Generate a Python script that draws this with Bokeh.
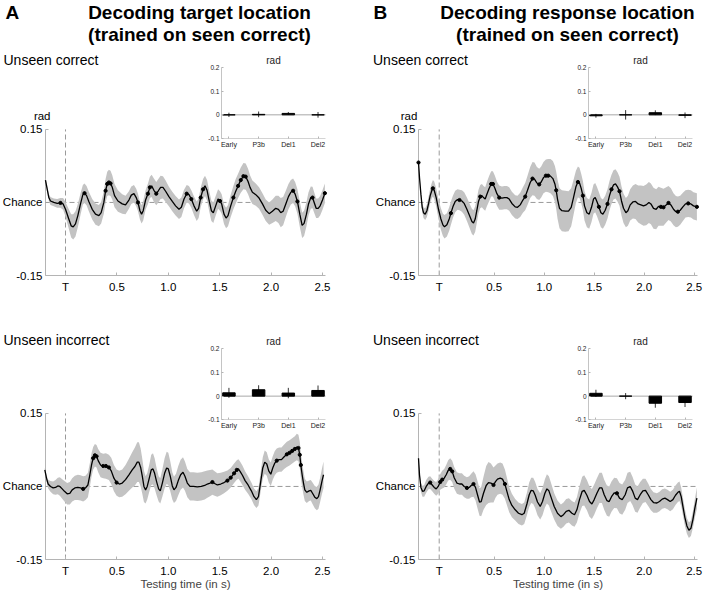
import numpy as np
from bokeh.plotting import figure
from bokeh.models import Range1d, FixedTicker, Label, LinearAxis
from bokeh.layouts import row, column
from bokeh.core.properties import value
from bokeh.embed import file_html
from bokeh.resources import INLINE

# ---------------- data ----------------
panel_titles = {"A": ["Decoding target location", "(trained on seen correct)"],
                "B": ["Decoding response location", "(trained on seen correct)"]}
cond_labels = ["Unseen correct", "Unseen incorrect"]
categories = ["Early", "P3b", "Del1", "Del2"]
y_ticks = [-0.15, 0.0, 0.15]
y_tick_labels = ["-0.15", "Chance", "0.15"]
x_ticks_a = [0.0, 0.5, 1.0, 1.5, 2.0, 2.5]
x_ticks_b = [-0.05, 0.5, 1.0, 1.5, 2.0, 2.5]
x_tick_labels = ["T", "0.5", "1.0", "1.5", "2.0", "2.5"]
inset_y_ticks = [-0.1, 0.0, 0.1, 0.2]
inset_y_tick_labels = ["-0.1", "0", "0.1", "0.2"]
chance_level = 0.0
x_axis_end = 2.53

# ---- A, unseen correct ----
t_a_top = [-0.195,-0.162,-0.146,-0.114,-0.081,-0.049,-0.023,0.000,0.032,0.055,
           0.075,0.097,0.120,0.146,0.169,0.185,0.205,0.227,0.260,0.292,
           0.325,0.347,0.373,0.390,0.406,0.422,0.438,0.455,0.477,0.510,
           0.552,0.584,0.617,0.640,0.666,0.688,0.705,0.724,0.740,0.756,
           0.779,0.802,0.821,0.838,0.860,0.883,0.903,0.925,0.948,0.974,
           1.006,1.039,1.071,1.104,1.127,1.153,1.179,1.201,1.224,1.250,
           1.276,1.295,1.315,1.338,1.357,1.377,1.399,1.419,1.438,1.461,
           1.484,1.503,1.519,1.542,1.562,1.581,1.607,1.633,1.656,1.679,
           1.705,1.731,1.753,1.776,1.795,1.818,1.851,1.883,1.916,1.948,
           1.981,2.013,2.045,2.071,2.094,2.117,2.143,2.169,2.192,2.214,
           2.234,2.256,2.279,2.302,2.321,2.344,2.364,2.386,2.403,2.419,
           2.438,2.458,2.477,2.500,2.523]
v_a_top = [0.046,0.010,0.003,0.000,-0.002,-0.001,-0.003,-0.014,-0.034,-0.048,
           -0.050,-0.044,-0.027,-0.003,0.016,0.019,0.014,0.002,-0.014,-0.024,
           -0.027,-0.021,0.000,0.024,0.038,0.041,0.039,0.031,0.014,0.003,
           -0.003,-0.005,0.005,0.015,0.018,0.010,0.000,-0.017,-0.024,-0.017,
           0.005,0.018,0.031,0.034,0.025,0.018,0.024,0.031,0.031,0.023,
           0.012,0.002,-0.007,-0.014,-0.010,0.007,0.018,0.016,0.007,-0.007,
           -0.018,-0.012,0.010,0.027,0.034,0.025,0.002,-0.017,-0.021,-0.007,
           0.007,0.003,-0.003,-0.024,-0.032,-0.027,-0.007,0.010,0.023,0.034,
           0.046,0.054,0.053,0.043,0.031,0.021,0.016,0.009,-0.003,-0.016,
           -0.023,-0.018,-0.012,-0.014,-0.021,-0.018,-0.003,0.012,0.021,0.024,
           0.017,0.002,-0.024,-0.047,-0.043,-0.024,-0.003,0.010,0.010,0.000,
           -0.012,-0.012,-0.007,0.005,0.019]
hw_a_top = [0.006,0.007,0.008,0.008,0.009,0.010,0.012,0.015,0.020,0.024,
            0.026,0.026,0.024,0.022,0.020,0.020,0.020,0.020,0.021,0.022,
            0.022,0.022,0.023,0.024,0.025,0.026,0.026,0.025,0.024,0.022,
            0.020,0.019,0.018,0.018,0.018,0.018,0.018,0.018,0.019,0.020,
            0.020,0.021,0.022,0.023,0.024,0.024,0.024,0.024,0.023,0.022,
            0.020,0.020,0.020,0.020,0.020,0.019,0.018,0.018,0.018,0.019,
            0.020,0.020,0.020,0.021,0.021,0.021,0.021,0.021,0.021,0.020,
            0.020,0.020,0.020,0.020,0.021,0.022,0.023,0.024,0.025,0.025,
            0.026,0.027,0.027,0.026,0.025,0.024,0.023,0.022,0.022,0.022,
            0.023,0.024,0.026,0.028,0.030,0.029,0.027,0.026,0.025,0.025,
            0.025,0.025,0.026,0.026,0.026,0.025,0.024,0.023,0.022,0.021,
            0.020,0.020,0.020,0.020,0.020]
sig_a_top = [-0.049,0.185,0.390,0.406,0.422,0.438,0.705,0.802,0.821,0.883,
             1.179,1.224,1.315,1.338,1.503,1.633,1.679,1.705,1.731,1.753,
             2.214,2.256,2.403,2.523]

# ---- B, unseen correct ----
t_b_top = [-0.257,-0.247,-0.233,-0.220,-0.207,-0.190,-0.173,-0.157,-0.140,-0.123,
           -0.113,-0.100,-0.080,-0.057,-0.033,-0.013,0.003,0.027,0.050,0.067,
           0.087,0.110,0.133,0.153,0.177,0.200,0.227,0.253,0.277,0.293,
           0.310,0.327,0.343,0.360,0.377,0.393,0.410,0.427,0.450,0.470,
           0.487,0.507,0.527,0.550,0.577,0.603,0.627,0.650,0.677,0.710,
           0.733,0.760,0.787,0.810,0.833,0.860,0.883,0.903,0.927,0.950,
           0.970,0.993,1.017,1.040,1.063,1.087,1.107,1.120,1.133,1.153,
           1.177,1.210,1.243,1.270,1.293,1.317,1.337,1.353,1.370,1.387,
           1.403,1.427,1.450,1.473,1.493,1.510,1.527,1.547,1.567,1.587,
           1.610,1.633,1.653,1.673,1.693,1.713,1.733,1.753,1.773,1.793,
           1.817,1.837,1.860,1.887,1.913,1.940,1.967,1.993,2.020,2.047,
           2.067,2.093,2.120,2.143,2.167,2.193,2.220,2.243,2.267,2.293,
           2.317,2.337,2.360,2.387,2.413,2.440,2.467,2.493,2.527]
v_b_top = [0.082,0.051,0.017,-0.010,-0.021,-0.024,-0.017,-0.003,0.014,0.025,
           0.029,0.025,0.010,-0.014,-0.034,-0.046,-0.050,-0.046,-0.034,-0.022,
           -0.009,0.002,0.006,0.005,0.003,-0.002,-0.014,-0.027,-0.039,-0.042,
           -0.034,-0.016,0.002,0.012,0.014,0.010,0.007,0.017,0.029,0.038,
           0.038,0.029,0.018,0.010,0.009,0.010,0.010,0.007,-0.002,-0.009,
           -0.010,-0.005,0.005,0.012,0.025,0.041,0.049,0.048,0.040,0.037,
           0.042,0.051,0.055,0.055,0.054,0.049,0.038,0.025,0.007,-0.012,
           -0.017,-0.018,-0.018,-0.010,0.010,0.032,0.042,0.040,0.029,0.014,
           -0.007,-0.021,-0.024,-0.010,0.007,0.010,0.002,-0.009,-0.021,-0.024,
           -0.016,-0.003,0.014,0.027,0.036,0.038,0.032,0.023,0.003,-0.012,
           -0.021,-0.017,-0.005,0.001,0.002,-0.003,-0.005,-0.007,-0.005,0.000,
           -0.003,-0.012,-0.014,-0.008,-0.009,-0.010,-0.005,-0.001,-0.005,-0.014,
           -0.019,-0.019,-0.016,-0.009,-0.003,-0.002,-0.003,-0.007,-0.009]
hw_b_top = [0.003,0.005,0.007,0.009,0.011,0.012,0.013,0.014,0.015,0.016,
            0.017,0.018,0.019,0.020,0.022,0.023,0.024,0.024,0.024,0.024,
            0.023,0.022,0.021,0.021,0.022,0.023,0.024,0.025,0.026,0.026,
            0.026,0.025,0.024,0.024,0.024,0.024,0.024,0.025,0.026,0.026,
            0.026,0.026,0.025,0.025,0.024,0.024,0.024,0.024,0.024,0.024,
            0.024,0.025,0.026,0.028,0.030,0.032,0.034,0.034,0.033,0.032,
            0.032,0.032,0.033,0.034,0.035,0.036,0.037,0.038,0.040,0.041,
            0.042,0.042,0.041,0.039,0.036,0.033,0.032,0.031,0.030,0.030,
            0.030,0.030,0.030,0.030,0.030,0.030,0.030,0.030,0.030,0.030,
            0.030,0.030,0.030,0.030,0.030,0.030,0.030,0.030,0.030,0.030,
            0.030,0.031,0.032,0.034,0.036,0.038,0.040,0.041,0.042,0.042,
            0.042,0.042,0.041,0.040,0.039,0.038,0.036,0.035,0.034,0.033,
            0.032,0.031,0.030,0.029,0.028,0.028,0.028,0.028,0.028]
sig_b_top = [-0.257,-0.113,0.067,0.153,0.360,0.470,0.487,0.560,0.810,0.883,
             0.950,1.017,1.040,1.120,1.337,1.387,1.547,1.633,1.673,1.753,
             2.167,2.193,2.243,2.337,2.440,2.527]

# ---- A, unseen incorrect ----
t_a_bot = [-0.201,-0.185,-0.169,-0.146,-0.120,-0.097,-0.075,-0.055,-0.032,-0.010,
           0.016,0.042,0.065,0.091,0.120,0.146,0.172,0.195,0.218,0.237,
           0.253,0.269,0.286,0.302,0.318,0.341,0.367,0.393,0.422,0.445,
           0.471,0.497,0.523,0.552,0.584,0.617,0.649,0.675,0.698,0.714,
           0.731,0.747,0.763,0.779,0.795,0.815,0.834,0.851,0.867,0.886,
           0.906,0.922,0.942,0.964,0.984,1.000,1.019,1.039,1.055,1.075,
           1.097,1.120,1.143,1.162,1.185,1.211,1.244,1.282,1.321,1.354,
           1.380,1.406,1.429,1.451,1.477,1.510,1.542,1.575,1.607,1.640,
           1.666,1.682,1.698,1.721,1.747,1.776,1.808,1.834,1.857,1.877,
           1.899,1.919,1.938,1.958,1.977,1.997,2.016,2.036,2.055,2.078,
           2.101,2.127,2.153,2.179,2.205,2.231,2.250,2.266,2.279,2.289,
           2.302,2.315,2.328,2.347,2.370,2.386,2.403,2.425,2.445,2.461,
           2.477,2.494,2.510]
v_a_bot = [0.034,0.017,0.005,0.000,-0.003,-0.002,0.001,0.000,-0.005,-0.010,
           -0.015,-0.014,-0.007,-0.003,-0.002,-0.003,-0.005,-0.003,0.003,0.024,
           0.044,0.058,0.064,0.062,0.053,0.044,0.042,0.042,0.039,0.032,
           0.017,0.008,0.005,0.007,0.014,0.024,0.034,0.041,0.050,0.050,
           0.039,0.021,0.000,-0.007,0.000,0.017,0.034,0.036,0.027,0.010,
           -0.005,-0.009,0.007,0.027,0.038,0.036,0.021,0.001,-0.007,-0.002,
           0.012,0.024,0.029,0.021,0.007,0.000,0.000,-0.001,0.000,0.002,
           0.005,0.007,0.009,0.006,0.003,0.005,0.008,0.012,0.018,0.027,
           0.034,0.036,0.031,0.023,0.012,0.003,-0.009,-0.021,-0.027,-0.021,
           0.010,0.038,0.050,0.046,0.032,0.025,0.038,0.048,0.053,0.055,
           0.055,0.061,0.066,0.069,0.073,0.077,0.081,0.079,0.065,0.044,
           0.024,0.007,-0.007,-0.012,-0.009,-0.008,-0.014,-0.022,-0.025,-0.021,
           -0.007,0.010,0.024]
hw_a_bot = [0.005,0.007,0.009,0.011,0.013,0.015,0.017,0.019,0.020,0.021,
            0.022,0.023,0.024,0.025,0.026,0.026,0.026,0.025,0.025,0.024,
            0.024,0.023,0.023,0.023,0.024,0.025,0.025,0.026,0.026,0.027,
            0.027,0.027,0.027,0.028,0.030,0.033,0.036,0.039,0.041,0.041,
            0.039,0.036,0.032,0.028,0.027,0.028,0.031,0.032,0.031,0.028,
            0.026,0.026,0.028,0.031,0.033,0.033,0.031,0.028,0.027,0.028,
            0.030,0.031,0.031,0.030,0.029,0.029,0.029,0.029,0.029,0.029,
            0.028,0.027,0.026,0.025,0.024,0.023,0.022,0.021,0.020,0.020,
            0.020,0.020,0.020,0.020,0.019,0.018,0.017,0.017,0.017,0.018,
            0.020,0.022,0.024,0.024,0.024,0.024,0.024,0.025,0.025,0.025,
            0.025,0.025,0.026,0.026,0.026,0.026,0.027,0.027,0.027,0.026,
            0.025,0.024,0.023,0.022,0.021,0.021,0.022,0.023,0.024,0.025,
            0.025,0.026,0.027]
sig_a_bot = [0.172,0.269,0.286,0.302,0.367,0.393,0.422,0.497,1.429,1.575,
             1.607,1.640,1.666,2.055,2.153,2.179,2.205,2.231,2.266,2.279,
             2.289]

# ---- B, unseen incorrect ----
t_b_bot = [-0.257,-0.247,-0.233,-0.217,-0.200,-0.180,-0.157,-0.140,-0.120,-0.100,
           -0.080,-0.060,-0.040,-0.020,0.000,0.020,0.040,0.060,0.080,0.100,
           0.127,0.153,0.177,0.200,0.227,0.250,0.270,0.293,0.313,0.333,
           0.353,0.370,0.393,0.420,0.443,0.467,0.493,0.513,0.533,0.560,
           0.583,0.607,0.627,0.650,0.677,0.710,0.743,0.777,0.800,0.827,
           0.850,0.870,0.890,0.910,0.933,0.960,0.983,1.007,1.027,1.047,
           1.070,1.100,1.133,1.167,1.193,1.220,1.247,1.277,1.303,1.327,
           1.353,1.380,1.400,1.427,1.453,1.477,1.500,1.527,1.553,1.577,
           1.600,1.627,1.650,1.673,1.700,1.727,1.753,1.780,1.810,1.833,
           1.860,1.883,1.910,1.933,1.960,1.987,2.013,2.040,2.067,2.093,
           2.127,2.153,2.180,2.207,2.233,2.260,2.287,2.313,2.337,2.353,
           2.370,2.387,2.407,2.427,2.447,2.467,2.487,2.507,2.527]
v_b_bot = [0.058,0.024,-0.002,-0.010,-0.009,0.000,0.007,0.008,0.003,-0.002,
           -0.005,0.000,0.009,0.014,0.017,0.024,0.033,0.036,0.031,0.018,
           0.007,0.005,0.005,0.000,-0.003,-0.002,0.002,0.005,-0.002,-0.017,
           -0.032,-0.031,-0.014,0.002,0.008,0.007,0.003,0.010,0.015,0.017,
           0.015,0.005,-0.010,-0.027,-0.039,-0.048,-0.055,-0.058,-0.055,-0.036,
           -0.017,-0.008,-0.009,-0.018,-0.032,-0.041,-0.031,-0.014,-0.005,-0.009,
           -0.023,-0.041,-0.055,-0.062,-0.058,-0.051,-0.049,-0.055,-0.058,-0.048,
           -0.027,-0.010,-0.008,-0.018,-0.031,-0.036,-0.027,-0.014,-0.003,-0.003,
           -0.017,-0.029,-0.031,-0.021,-0.013,-0.014,-0.024,-0.027,-0.017,-0.003,
           0.000,-0.009,-0.024,-0.027,-0.017,-0.009,-0.008,-0.017,-0.027,-0.033,
           -0.034,-0.031,-0.026,-0.024,-0.027,-0.031,-0.027,-0.018,-0.012,-0.010,
           -0.021,-0.041,-0.064,-0.081,-0.090,-0.086,-0.068,-0.044,-0.024]
hw_b_bot = [0.003,0.006,0.009,0.011,0.012,0.013,0.013,0.013,0.013,0.013,
            0.014,0.015,0.016,0.018,0.019,0.020,0.021,0.022,0.022,0.022,
            0.022,0.022,0.022,0.022,0.022,0.023,0.024,0.026,0.027,0.028,
            0.028,0.030,0.034,0.040,0.042,0.040,0.036,0.033,0.032,0.032,
            0.032,0.030,0.028,0.026,0.024,0.022,0.022,0.022,0.022,0.023,
            0.025,0.026,0.027,0.027,0.027,0.027,0.028,0.029,0.030,0.030,
            0.029,0.027,0.026,0.025,0.025,0.025,0.025,0.025,0.025,0.026,
            0.028,0.030,0.031,0.031,0.031,0.031,0.031,0.031,0.031,0.031,
            0.031,0.031,0.031,0.031,0.031,0.031,0.031,0.031,0.031,0.031,
            0.030,0.029,0.028,0.027,0.026,0.025,0.024,0.023,0.022,0.021,
            0.020,0.020,0.020,0.020,0.020,0.020,0.020,0.020,0.020,0.020,
            0.019,0.018,0.017,0.016,0.016,0.016,0.017,0.019,0.022]
sig_b_bot = [-0.140,-0.040,-0.020,0.060,0.080,0.227,0.293,0.493,0.607,1.727]

# ---- inset bars (mean, error) ----
bars_a_top = [0.000, 0.002, 0.006, 0.000]
errs_a_top = [0.009, 0.012, 0.006, 0.012]
bars_b_top = [-0.004, 0.000, 0.009, -0.002]
errs_b_top = [0.008, 0.020, 0.010, 0.012]
bars_a_bot = [0.014, 0.027, 0.013, 0.024]
errs_a_bot = [0.021, 0.019, 0.022, 0.021]
bars_b_bot = [0.012, 0.000, -0.030, -0.027]
errs_b_bot = [0.015, 0.013, 0.019, 0.019]

# ---------------- layout geometry (pixels) ----------------
FONT = "Liberation Sans"
PPU_MAIN = 487.0
PPU_INSET = 236.7
INSET_PPI = 29.7
INSET_XLIM = [-0.25, 3.25]
INSET_YLIM = [-0.1, 0.2]
Y_LIM = [-0.15, 0.15]
COL_W = 352

COLS = {
    "A": dict(off=0, axis_x=45, t_tick_x=65, pps=102.8, inset_axis_x=221,
              ticks=x_ticks_a, rad_x=41.7, cond_x=3, letter_x=5, title_x=199),
    "B": dict(off=352, axis_x=418, t_tick_x=438.7, pps=100.0, inset_axis_x=588,
              ticks=x_ticks_b, rad_x=408.5, cond_x=372.5, letter_x=373, title_x=567),
}
ROWS = {
    "top": dict(off=0, height=300, bottom_y=275, inset_top_y=67, cond_y=59, rad_y=115),
    "bot": dict(off=300, height=292, bottom_y=559, inset_top_y=348.3, cond_y=339, rad_y=None),
}
AX_COLOR = "#b4b4b4"


def style_axis(ax, size):
    ax.axis_line_color = AX_COLOR
    ax.major_tick_line_color = AX_COLOR
    ax.major_tick_in = 3
    ax.major_tick_out = 0
    ax.minor_tick_line_color = None
    ax.major_label_text_font = FONT
    ax.major_label_text_font_size = size
    ax.major_label_text_color = "black"


def make_panel(col, rk, t, v, hw, sig, bars, errs, cond):
    c = COLS[col]
    r = ROWS[rk]
    H = r["height"]
    t0 = c["ticks"][0]

    def fx(X):
        return t0 + (X - c["t_tick_x"]) / c["pps"]

    def fy(Y):
        return Y_LIM[0] + (r["bottom_y"] - Y) / PPU_MAIN

    x0 = fx(c["off"])
    x1 = fx(c["off"] + COL_W)
    y0 = fy(r["off"] + H)
    y1 = fy(r["off"])
    x_axis_start = fx(c["axis_x"])

    p = figure(frame_width=COL_W, frame_height=H,
               x_range=Range1d(x0, x1), y_range=Range1d(y0, y1),
               min_border_left=0, min_border_right=0, min_border_top=0, min_border_bottom=0,
               output_backend="svg", toolbar_location=None)
    p.outline_line_color = None
    p.grid.visible = False
    p.background_fill_color = "white"
    p.border_fill_color = "white"

    # main axes, drawn at the axis origin inside the frame
    xa = p.xaxis[0]
    ya = p.yaxis[0]
    style_axis(xa, "11.5px")
    style_axis(ya, "11.5px")
    ya.level = "underlay"
    ya.fixed_location = x_axis_start
    ya.ticker = FixedTicker(ticks=y_ticks)
    ya.major_label_overrides = {k: lab for k, lab in zip(y_ticks, y_tick_labels)}
    ya.bounds = (Y_LIM[0], Y_LIM[1])
    ya.major_label_standoff = 3
    xa.fixed_location = Y_LIM[0]
    xa.ticker = FixedTicker(ticks=c["ticks"])
    xa.major_label_overrides = {k: lab for k, lab in zip(c["ticks"], x_tick_labels)}
    xa.bounds = (x_axis_start, x_axis_end)
    xa.major_label_standoff = 5
    if rk == "bot":
        xa.axis_label = "Testing time (in s)"
        xa.axis_label_text_font = FONT
        xa.axis_label_text_font_size = "11.5px"
        xa.axis_label_text_font_style = "normal"
        xa.axis_label_standoff = -2

    # reference lines
    p.line(x=[x_axis_start, x_axis_end], y=[chance_level, chance_level], line_color="#9a9a9a",
           line_dash="5 3", line_width=1)
    p.line(x=[t0, t0], y=Y_LIM, line_color="#9a9a9a", line_dash="5 3", line_width=1)

    # band, line, significance dots
    ta = np.array(t)
    va = np.array(v)
    ha = np.array(hw)
    p.varea(x=ta, y1=va - ha, y2=va + ha, fill_color="#c3c3c3", fill_alpha=1.0)
    p.line(x=ta, y=va, line_color="black", line_width=1.3)
    sidx = [int(np.argmin(np.abs(ta - s))) for s in sig]
    p.scatter(x=ta[sidx], y=va[sidx], size=3.2, color="black")

    # inset via extra ranges
    idx0_x = c["inset_axis_x"] - INSET_XLIM[0] * INSET_PPI
    ix0 = (c["off"] - idx0_x) / INSET_PPI
    ix1 = ix0 + COL_W / INSET_PPI
    iy1 = INSET_YLIM[1] + (r["inset_top_y"] - r["off"]) / PPU_INSET
    iy0 = iy1 - H / PPU_INSET
    p.extra_x_ranges = {"ix": Range1d(ix0, ix1)}
    p.extra_y_ranges = {"iy": Range1d(iy0, iy1)}
    kw = dict(x_range_name="ix", y_range_name="iy")
    n = len(categories)
    idx = np.arange(n)

    iya = LinearAxis(fixed_location=INSET_XLIM[0], bounds=(INSET_YLIM[0], INSET_YLIM[1]),
                     ticker=FixedTicker(ticks=inset_y_ticks), **kw)
    style_axis(iya, "6.5px")
    iya.major_label_overrides = {k: lab for k, lab in zip(inset_y_ticks, inset_y_tick_labels)}
    iya.major_label_standoff = 2
    iya.major_tick_in = 2
    iya.axis_line_color = "#c4c4c4"
    iya.major_label_text_color = "#222222"
    p.add_layout(iya, "left")

    ixa = LinearAxis(fixed_location=INSET_YLIM[0], bounds=(INSET_XLIM[0], INSET_XLIM[1]),
                     ticker=FixedTicker(ticks=list(idx)), **kw)
    style_axis(ixa, "7px")
    ixa.major_label_overrides = {int(i): lab for i, lab in zip(idx, categories)}
    ixa.major_label_standoff = 2
    ixa.major_tick_in = 2
    ixa.axis_line_color = "#d4d4d4"
    ixa.major_label_text_color = "#222222"
    p.add_layout(ixa, "below")

    p.segment(x0=[INSET_XLIM[0]], y0=[0.0], x1=[INSET_XLIM[1]], y1=[0.0],
              line_color="#a8a8a8", line_width=1, **kw)
    p.text(x=[(n - 1) / 2], y=[INSET_YLIM[1] + 7 / PPU_INSET], text=["rad"],
           text_align="center", text_baseline="middle",
           text_font=value(FONT), text_font_size="10px", text_color="#222222", **kw)
    bv = np.array(bars)
    ev = np.array(errs)
    p.vbar(x=idx, width=0.42, bottom=0, top=bv, fill_color="black", line_color="black",
           line_width=1, **kw)
    p.segment(x0=idx, y0=bv - ev, x1=idx, y1=bv + ev, line_color="black", line_width=0.8, **kw)

    # free texts
    p.add_layout(Label(x=fx(c["cond_x"]), y=fy(r["cond_y"]), text=cond,
                       text_align="left", text_baseline="middle",
                       text_font=FONT, text_font_size="14px", text_color="black"))
    if r["rad_y"] is not None:
        p.add_layout(Label(x=fx(c["rad_x"]), y=fy(r["rad_y"]), text="rad",
                           text_align="center", text_baseline="middle",
                           text_font=FONT, text_font_size="11.5px", text_color="black"))
    if rk == "top":
        p.add_layout(Label(x=fx(c["letter_x"]), y=fy(12), text=col,
                           text_align="left", text_baseline="middle",
                           text_font=FONT, text_font_size="19px", text_font_style="bold",
                           text_color="black"))
        for line_text, yy in zip(panel_titles[col], [12, 33.5]):
            p.add_layout(Label(x=fx(c["title_x"]), y=fy(yy), text=line_text,
                               text_align="center", text_baseline="middle",
                               text_font=FONT, text_font_size="19px", text_font_style="bold",
                               text_color="black"))
    return p


pa1 = make_panel("A", "top", t_a_top, v_a_top, hw_a_top, sig_a_top, bars_a_top, errs_a_top, cond_labels[0])
pa2 = make_panel("A", "bot", t_a_bot, v_a_bot, hw_a_bot, sig_a_bot, bars_a_bot, errs_a_bot, cond_labels[1])
pb1 = make_panel("B", "top", t_b_top, v_b_top, hw_b_top, sig_b_top, bars_b_top, errs_b_top, cond_labels[0])
pb2 = make_panel("B", "bot", t_b_bot, v_b_bot, hw_b_bot, sig_b_bot, bars_b_bot, errs_b_bot, cond_labels[1])

layout = row(column(pa1, pa2), column(pb1, pb2))
open("out.html", "w").write(file_html(layout, INLINE))
